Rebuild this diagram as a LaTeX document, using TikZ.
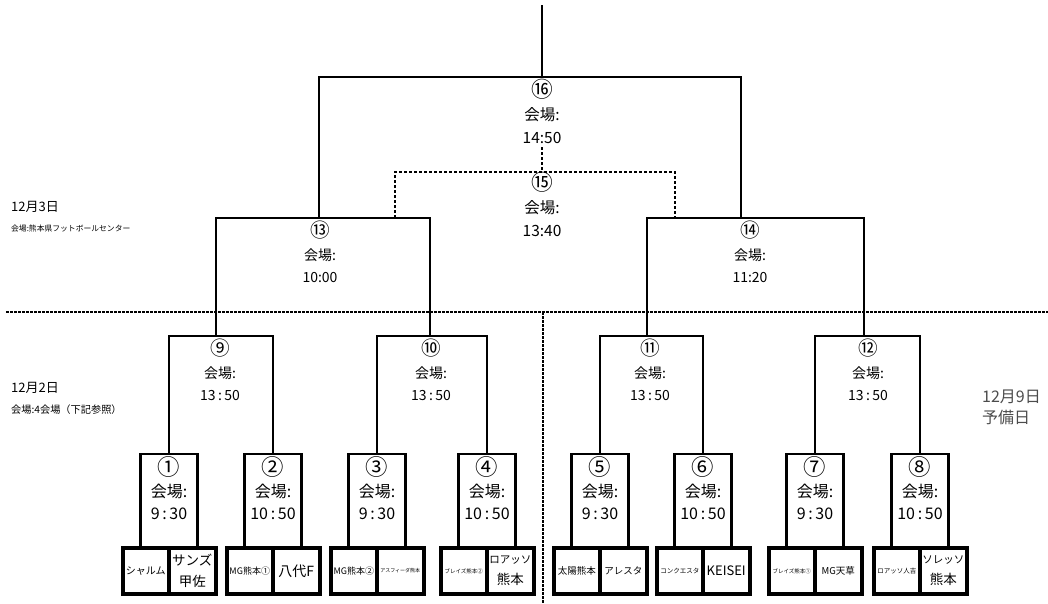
\documentclass[tikz,border=0pt]{standalone}
\usepackage{fontspec}
\setmainfont{Noto Sans CJK JP}
\usetikzlibrary{positioning}
\newcommand{\cnum}[1]{\scalebox{1.4}{#1}}

\begin{document}
\begin{tikzpicture}[x=1pt, y=-1pt, inner sep=0pt,
  bracketline/.style={line width=2.6pt},
  dotline/.style={line width=2.2pt, dash pattern=on 3pt off 2pt},
  sepline/.style={line width=2pt, dash pattern=on 2.5pt off 1.5pt},
  matchbox/.style 2 args={rectangle, minimum width=#1, minimum height=#2, outer sep=0pt},
  teambox/.style={draw, line width=4pt, minimum width=46.5pt, minimum height=46pt, outer sep=0pt, align=center},
  tsize/.style 2 args={font=\fontsize{#1}{#2}\selectfont},
  rd1/.style={align=center, font=\fontsize{16}{22}\selectfont},
  rd2/.style={align=center, font=\fontsize{14}{22.5}\selectfont},
  rdf/.style={align=center, font=\fontsize{15.5}{23}\selectfont}]
	\useasboundingbox (0,0) rectangle (1048,603);

	% teams
	\node[teambox, tsize={10}{12}] (t1a) at (145.75,571) {シャルム};
	\node[teambox, tsize={13.5}{21}, right=0pt of t1a] (t1b) {サンズ\\甲佐};
	\node[teambox, tsize={9}{11}] (t2a) at (249.75,571) {MG熊本①};
	\node[teambox, tsize={14}{16}, right=0pt of t2a] (t2b) {八代F};
	\node[teambox, tsize={9}{11}] (t3a) at (353.75,571) {MG熊本②};
	\node[teambox, tsize={5}{6}, right=0pt of t3a] (t3b) {アスフィーダ熊本};
	\node[teambox, tsize={5.5}{7}] (t4a) at (463.75,571) {ブレイズ熊本②};
	\node[teambox, tsize={10.5}{21}, right=0pt of t4a] (t4b) {ロアッソ\\{\fontsize{13.5}{21}\selectfont 熊本}};
	\node[teambox, tsize={9.5}{11}] (t5a) at (576.75,571) {太陽熊本};
	\node[teambox, tsize={9.5}{11}, right=0pt of t5a] (t5b) {アレスタ};
	\node[teambox, tsize={6.5}{8}] (t6a) at (679.75,571) {コンクエスタ};
	\node[teambox, tsize={13}{15}, right=0pt of t6a] (t6b) {KEISEI};
	\node[teambox, tsize={5.5}{7}] (t7a) at (791.75,571) {ブレイズ熊本①};
	\node[teambox, tsize={9.5}{11}, right=0pt of t7a] (t7b) {MG天草};
	\node[teambox, tsize={6.5}{8}] (t8a) at (896.75,571) {ロアッソ人吉};
	\node[teambox, tsize={10.5}{21}, right=0pt of t8a] (t8b) {ソレッソ\\{\fontsize{13.5}{21}\selectfont 熊本}};

	% match brackets
	\node[matchbox={57pt}{94pt}] (m1) at (169,501) {};
	\node[matchbox={57pt}{94pt}] (m2) at (273,501) {};
	\node[matchbox={57pt}{94pt}] (m3) at (377,501) {};
	\node[matchbox={57pt}{94pt}] (m4) at (487,501) {};
	\node[matchbox={57pt}{94pt}] (m5) at (600,501) {};
	\node[matchbox={57pt}{94pt}] (m6) at (703,501) {};
	\node[matchbox={57pt}{94pt}] (m7) at (815,501) {};
	\node[matchbox={57pt}{94pt}] (m8) at (920,501) {};
	\node[matchbox={104pt}{118pt}] (m9) at (221,395) {};
	\node[matchbox={110pt}{118pt}] (m10) at (432,395) {};
	\node[matchbox={103pt}{118pt}] (m11) at (651.5,395) {};
	\node[matchbox={105pt}{118pt}] (m12) at (867.5,395) {};
	\node[matchbox={214pt}{118pt}] (m13) at (323,277) {};
	\node[matchbox={217pt}{118pt}] (m14) at (755.5,277) {};
	\node[matchbox={280pt}{46pt}] (m15) at (535,195) {};
	\node[matchbox={422pt}{141pt}] (m16) at (530,147.5) {};
	\coordinate (champ) at (542,5);
	\coordinate (c15) at (542,147);

	\foreach \m in {1,...,14,16}
		\draw[bracketline] (m\m.south west) |- (m\m.north east) -- (m\m.south east);
	\draw[bracketline] (champ) -- (champ |- m16.north);
	\draw[dotline] (m15.south west) |- (m15.north east) -- (m15.south east);
	\draw[dotline] (c15) -- (c15 |- m15.north);

	% day separators
	\draw[sepline] (6,312) -- (1048,312);
	\draw[sepline] (543,312) -- (543,603);

	% match texts
	\node[rd1] (l1) at (169,488) {\cnum{①}\\会場:\\9\,:\,30};
	\node[rd1] (l2) at (273,488) {\cnum{②}\\会場:\\10\,:\,50};
	\node[rd1] (l3) at (377,488) {\cnum{③}\\会場:\\9\,:\,30};
	\node[rd1] (l4) at (487,488) {\cnum{④}\\会場:\\10\,:\,50};
	\node[rd1] (l5) at (600,488) {\cnum{⑤}\\会場:\\9\,:\,30};
	\node[rd1] (l6) at (703,488) {\cnum{⑥}\\会場:\\10\,:\,50};
	\node[rd1] (l7) at (815,488) {\cnum{⑦}\\会場:\\9\,:\,30};
	\node[rd1] (l8) at (920,488) {\cnum{⑧}\\会場:\\10\,:\,50};
	\node[rd2] (l9) at (220,370) {\cnum{⑨}\\会場:\\13\,:\,50};
	\node[rd2] (l10) at (431,370) {\cnum{⑩}\\会場:\\13\,:\,50};
	\node[rd2] (l11) at (650,370) {\cnum{⑪}\\会場:\\13\,:\,50};
	\node[rd2] (l12) at (868,370) {\cnum{⑫}\\会場:\\13\,:\,50};
	\node[rd2] (l13) at (320,252) {\cnum{⑬}\\会場:\\10:00};
	\node[rd2] (l14) at (750,252) {\cnum{⑭}\\会場:\\11:20};
	\node[rdf] (l15) at (542,204) {\cnum{⑮}\\会場:\\13:40};
	\node[rdf] (l16) at (542,111) {\cnum{⑯}\\会場:\\14:50};

	% day labels
	\node[anchor=west, font=\fontsize{13}{15}\selectfont] (day3) at (11,207) {12月3日};
	\node[anchor=west, font=\fontsize{7.8}{9}\selectfont] (hall3) at (11,229) {会場:熊本県フットボールセンター};
	\node[anchor=west, font=\fontsize{13}{15}\selectfont] (day2) at (11,388) {12月2日};
	\node[anchor=west, font=\fontsize{10.2}{11}\selectfont] (hall2) at (11,410) {会場:4会場（下記参照）};
	\node[anchor=west, align=left, text=black!70, font=\fontsize{16}{21}\selectfont] (spare) at (982,407) {12月9日\\予備日};
\end{tikzpicture}
\end{document}
